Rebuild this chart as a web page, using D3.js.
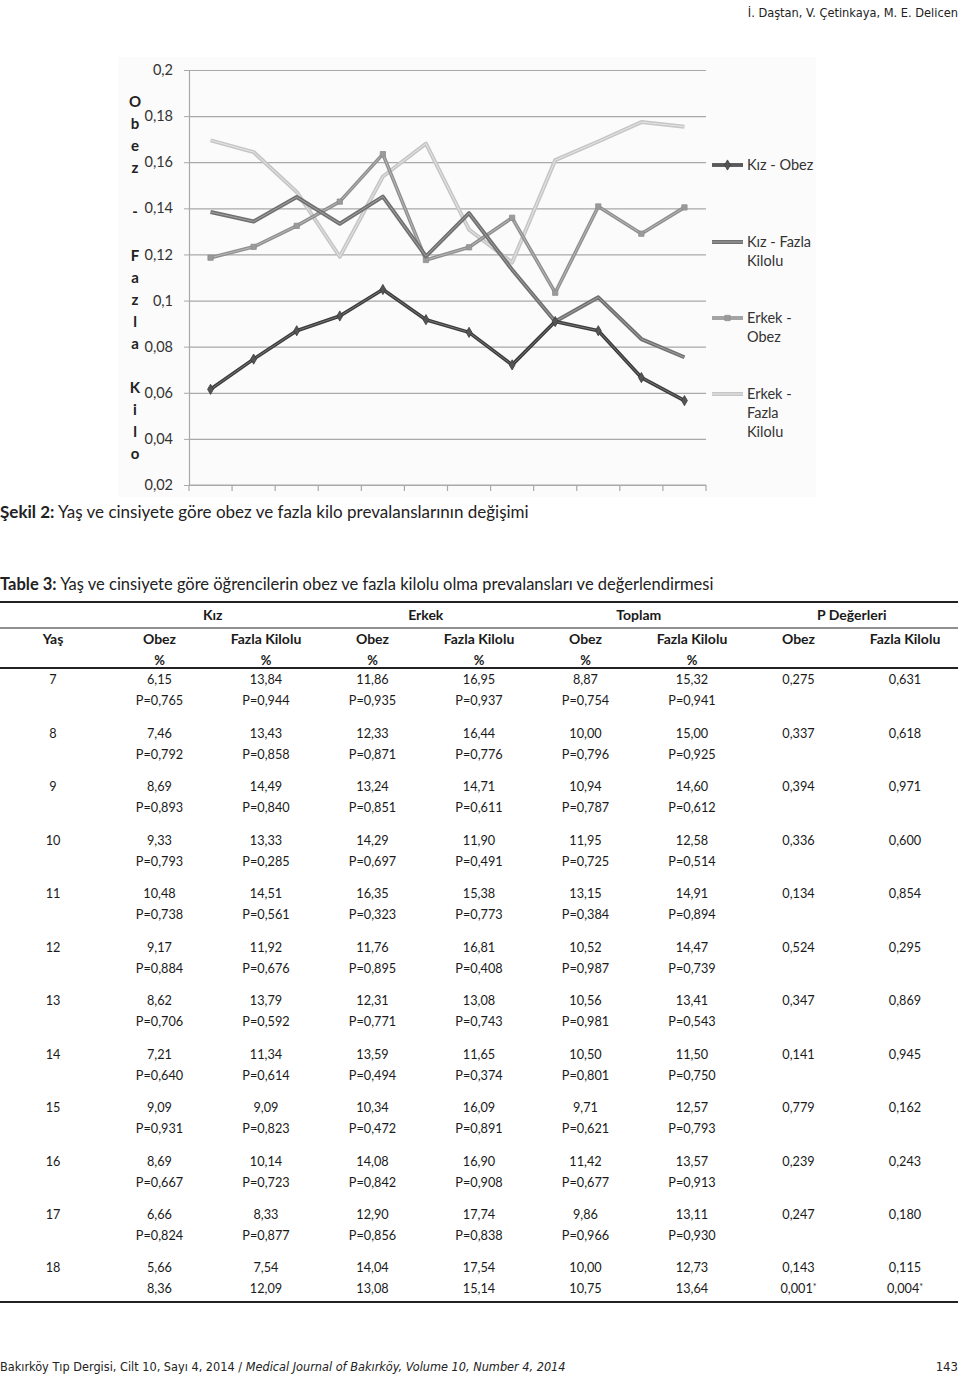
<!DOCTYPE html>
<html><head><meta charset="utf-8">
<script src="https://cdn.jsdelivr.net/npm/d3@7/dist/d3.min.js"></script>
<style>
html,body{margin:0;padding:0;background:#fff;}
svg{display:block;}
</style></head>
<body>
<svg id="page" width="960" height="1375"></svg>
<script>
// ---------- chart data ----------
const ages = ["7","8","9","10","11","12","13","14","15","16","17","18"];
const kizObez    = [0.0615,0.0746,0.0869,0.0933,0.1048,0.0917,0.0862,0.0721,0.0909,0.0869,0.0666,0.0566];
const kizFazla   = [0.1384,0.1343,0.1449,0.1333,0.1451,0.1192,0.1379,0.1134,0.0909,0.1014,0.0833,0.0754];
const erkekObez  = [0.1186,0.1233,0.1324,0.1429,0.1635,0.1176,0.1231,0.1359,0.1034,0.1408,0.1290,0.1404];
const erkekFazla = [0.1695,0.1644,0.1471,0.1190,0.1538,0.1681,0.1308,0.1165,0.1609,0.1690,0.1774,0.1754];
const yTicks = [0.02,0.04,0.06,0.08,0.1,0.12,0.14,0.16,0.18,0.2];
const seriesNames = [["Kız - Obez"],["Kız - Fazla","Kilolu"],["Erkek -","Obez"],["Erkek -","Fazla","Kilolu"]];
const yTitle = "Obez - Fazla Kilo";

// ---------- table data ----------
const groupHeaders = ["Kız","Erkek","Toplam","P Değerleri"];
const colHeaders = ["Yaş","Obez","Fazla Kilolu","Obez","Fazla Kilolu","Obez","Fazla Kilolu","Obez","Fazla Kilolu"];
const kizObezPct   = ["6,15","7,46","8,69","9,33","10,48","9,17","8,62","7,21","9,09","8,69","6,66","5,66"];
const kizObezP     = ["P=0,765","P=0,792","P=0,893","P=0,793","P=0,738","P=0,884","P=0,706","P=0,640","P=0,931","P=0,667","P=0,824","8,36"];
const kizFazlaPct  = ["13,84","13,43","14,49","13,33","14,51","11,92","13,79","11,34","9,09","10,14","8,33","7,54"];
const kizFazlaP    = ["P=0,944","P=0,858","P=0,840","P=0,285","P=0,561","P=0,676","P=0,592","P=0,614","P=0,823","P=0,723","P=0,877","12,09"];
const erkObezPct   = ["11,86","12,33","13,24","14,29","16,35","11,76","12,31","13,59","10,34","14,08","12,90","14,04"];
const erkObezP     = ["P=0,935","P=0,871","P=0,851","P=0,697","P=0,323","P=0,895","P=0,771","P=0,494","P=0,472","P=0,842","P=0,856","13,08"];
const erkFazlaPct  = ["16,95","16,44","14,71","11,90","15,38","16,81","13,08","11,65","16,09","16,90","17,74","17,54"];
const erkFazlaP    = ["P=0,937","P=0,776","P=0,611","P=0,491","P=0,773","P=0,408","P=0,743","P=0,374","P=0,891","P=0,908","P=0,838","15,14"];
const topObezPct   = ["8,87","10,00","10,94","11,95","13,15","10,52","10,56","10,50","9,71","11,42","9,86","10,00"];
const topObezP     = ["P=0,754","P=0,796","P=0,787","P=0,725","P=0,384","P=0,987","P=0,981","P=0,801","P=0,621","P=0,677","P=0,966","10,75"];
const topFazlaPct  = ["15,32","15,00","14,60","12,58","14,91","14,47","13,41","11,50","12,57","13,57","13,11","12,73"];
const topFazlaP    = ["P=0,941","P=0,925","P=0,612","P=0,514","P=0,894","P=0,739","P=0,543","P=0,750","P=0,793","P=0,913","P=0,930","13,64"];
const pObez        = ["0,275","0,337","0,394","0,336","0,134","0,524","0,347","0,141","0,779","0,239","0,247","0,143"];
const pObez2       = ["","","","","","","","","","","","0,001*"];
const pFazla       = ["0,631","0,618","0,971","0,600","0,854","0,295","0,869","0,945","0,162","0,243","0,180","0,115"];
const pFazla2      = ["","","","","","","","","","","","0,004*"];

const svg = d3.select("#page");
const chartFont = "Lato, 'Open Sans', sans-serif";
const narrow = "'Liberation Sans Narrow','DejaVu Sans Condensed',sans-serif";

// ---------- page header ----------
svg.append("text").attr("x",958).attr("y",17).attr("text-anchor","end")
  .attr("font-family",narrow).attr("font-size",12.7).attr("fill","#222").text("İ. Daştan, V. Çetinkaya, M. E. Delicen");

// ---------- chart ----------
svg.append("rect").attr("x",118).attr("y",57).attr("width",698).attr("height",440).attr("fill","#fbfbfb");

const x = d3.scaleBand().domain(ages).range([189,706]);
const y = d3.scaleLinear().domain([0.02,0.2]).range([485,70]);
const fmt = d => String(d).replace(".",",");

// gridlines
svg.append("g").attr("transform","translate(189,0)")
  .call(d3.axisLeft(y).tickValues(yTicks).tickSize(-(706-189)).tickFormat(""))
  .call(g=>g.select(".domain").remove())
  .call(g=>g.selectAll("line").attr("stroke","#a9a9a9").attr("stroke-width",1.2));
// y axis
const ya = svg.append("g").attr("transform","translate(189,0)")
  .call(d3.axisLeft(y).tickValues(yTicks).tickSize(5).tickPadding(11).tickFormat(fmt));
ya.select(".domain").attr("stroke","#a9a9a9").attr("stroke-width",1.2);
ya.selectAll(".tick line").attr("stroke","#a9a9a9");
ya.selectAll("text").attr("font-family",chartFont).attr("font-size",14.5).attr("fill","#333");
// x axis
const xa = svg.append("g");
xa.append("line").attr("x1",x.range()[0]).attr("x2",x.range()[1]).attr("y1",y(0.02)).attr("y2",y(0.02))
  .attr("stroke","#a9a9a9").attr("stroke-width",1.2);
const bounds = ages.map(a=>x(a)).concat([x.range()[1]]);
xa.selectAll("line.t").data(bounds).join("line").attr("class","t")
  .attr("x1",d=>d).attr("x2",d=>d).attr("y1",y(0.02)).attr("y2",y(0.02)+6).attr("stroke","#a9a9a9").attr("stroke-width",1.2);

// y title (stacked letters)
svg.append("g").selectAll("text").data(yTitle.split("")).join("text")
  .attr("x",135).attr("y",(d,i)=>102+i*22).attr("dy","0.35em").attr("text-anchor","middle")
  .attr("font-family",chartFont).attr("font-weight","bold").attr("font-size",15).attr("fill","#222")
  .text(d=>d);

const series = [
  {vals:kizObez, outer:"#3c3c3c", inner:"#777", w:3.6, marker:"diamond", mc:"#555"},
  {vals:kizFazla, outer:"#707070", inner:"#a2a2a2", w:4, marker:"none"},
  {vals:erkekObez, outer:"#8f8f8f", inner:"#b8b8b8", w:3.6, marker:"square", mc:"#9a9a9a"},
  {vals:erkekFazla, outer:"#c6c6c6", inner:"#e6e6e6", w:4, marker:"none"}
];
const line = d3.line().x((d,i)=>x(ages[i])+x.bandwidth()/2).y(d=>y(d));
const order = [3,2,1,0];
order.forEach(k=>{
  const s = series[k];
  const g = svg.append("g");
  g.append("path").attr("d",line(s.vals)).attr("fill","none").attr("stroke",s.outer).attr("stroke-width",s.w).attr("stroke-linejoin","round");
  g.append("path").attr("d",line(s.vals)).attr("fill","none").attr("stroke",s.inner).attr("stroke-width",1).attr("stroke-linejoin","round");
  if(s.marker!=="none"){
    const sym = d3.symbol().type(s.marker==="diamond"?d3.symbolDiamond:d3.symbolSquare).size(s.marker==="diamond"?30:28);
    g.selectAll("path.m").data(s.vals).join("path").attr("class","m")
      .attr("transform",(d,i)=>`translate(${x(ages[i])+x.bandwidth()/2},${y(d)})`)
      .attr("d",sym()).attr("fill",s.mc).attr("stroke",s.outer).attr("stroke-width",0.8);
  }
});

// legend
const legY = [165,242,318,394];
seriesNames.forEach((lines,k)=>{
  const s = series[k];
  const g = svg.append("g");
  g.append("line").attr("x1",712).attr("x2",743).attr("y1",legY[k]).attr("y2",legY[k]).attr("stroke",s.outer).attr("stroke-width",s.w);
  g.append("line").attr("x1",712).attr("x2",743).attr("y1",legY[k]).attr("y2",legY[k]).attr("stroke",s.inner).attr("stroke-width",1);
  if(s.marker!=="none"){
    const sym = d3.symbol().type(s.marker==="diamond"?d3.symbolDiamond:d3.symbolSquare).size(s.marker==="diamond"?30:28);
    g.append("path").attr("transform",`translate(727.5,${legY[k]})`).attr("d",sym()).attr("fill",s.mc).attr("stroke",s.outer).attr("stroke-width",0.8);
  }
  lines.forEach((t,j)=>{
    g.append("text").attr("x",747).attr("y",legY[k]+j*19).attr("dy","0.35em")
      .attr("font-family",chartFont).attr("font-size",14.5).attr("fill","#333").text(t);
  });
});

// ---------- captions ----------
const capFont = "Lato, 'Open Sans', sans-serif";
const cap1 = svg.append("text").attr("x",0).attr("y",518).attr("font-family",capFont).attr("font-size",17).attr("fill","#222");
cap1.append("tspan").attr("font-weight","bold").text("Şekil 2:");
cap1.append("tspan").text(" Yaş ve cinsiyete göre obez ve fazla kilo prevalanslarının değişimi");
const cap2 = svg.append("text").attr("x",0).attr("y",590).attr("font-family",capFont).attr("font-size",16.5).attr("fill","#222");
cap2.append("tspan").attr("font-weight","bold").text("Table 3:");
cap2.append("tspan").text(" Yaş ve cinsiyete göre öğrencilerin obez ve fazla kilolu olma prevalansları ve değerlendirmesi");

// ---------- table ----------
const tFont = "Lato, 'Open Sans', sans-serif";
const colX = d3.scalePoint().domain(d3.range(9)).range([53,905]);
const rowY = d3.scalePoint().domain(ages).range([680,1268]);
const rule = (yy,w)=>svg.append("line").attr("x1",0).attr("x2",958).attr("y1",yy).attr("y2",yy).attr("stroke","#222").attr("stroke-width",w);
rule(602,2); rule(628,1.2); rule(668,2); rule(1302,2);

const tg = svg.append("g").attr("font-family",tFont).attr("fill","#1a1a1a").attr("text-anchor","middle");
groupHeaders.forEach((h,i)=>{
  tg.append("text").attr("x",(colX(1+2*i)+colX(2+2*i))/2).attr("y",615).attr("dy","0.35em")
    .attr("font-weight","bold").attr("font-size",14).text(h);
});
colHeaders.forEach((h,i)=>{
  tg.append("text").attr("x",colX(i)).attr("y",639).attr("dy","0.35em").attr("font-weight","bold").attr("font-size",14).text(h);
  if(i>=1 && i<=6) tg.append("text").attr("x",colX(i)).attr("y",660).attr("dy","0.35em").attr("font-weight","bold").attr("font-size",13).text("%");
});
const cols1 = [ages,kizObezPct,kizFazlaPct,erkObezPct,erkFazlaPct,topObezPct,topFazlaPct,pObez,pFazla];
const cols2 = [null,kizObezP,kizFazlaP,erkObezP,erkFazlaP,topObezP,topFazlaP,pObez2,pFazla2];
ages.forEach((a,r)=>{
  cols1.forEach((c,i)=>{
    tg.append("text").attr("x",colX(i)).attr("y",rowY(a)).attr("dy","0.35em").attr("font-size",12.7).text(c[r]);
    if(cols2[i] && cols2[i][r]){
      const t = cols2[i][r];
      const el = tg.append("text").attr("x",colX(i)).attr("y",rowY(a)+21).attr("dy","0.35em").attr("font-size",12.7);
      if(t.endsWith("*")){ el.text(t.slice(0,-1)); el.append("tspan").attr("font-size",9).attr("dy","-0.4em").text("*"); }
      else el.text(t);
    }
  });
});

// ---------- footer ----------
const ft = svg.append("text").attr("x",0).attr("y",1371)
  .attr("font-family",narrow).attr("font-size",12.6).attr("fill","#222");
ft.append("tspan").text("Bakırköy Tıp Dergisi, Cilt 10, Sayı 4, 2014 / ");
ft.append("tspan").attr("font-style","italic").text("Medical Journal of Bakırköy, Volume 10, Number 4, 2014");
svg.append("text").attr("x",958).attr("y",1371).attr("text-anchor","end")
  .attr("font-family",narrow).attr("font-size",13).attr("fill","#222").text("143");
</script>
</body></html>
